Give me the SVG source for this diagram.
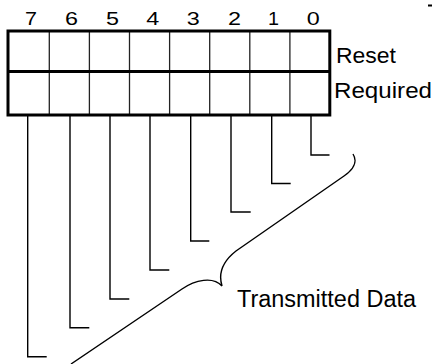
<svg xmlns="http://www.w3.org/2000/svg" width="432" height="364" viewBox="0 0 432 364">
<style>
.t{font-family:"Liberation Sans",Arial,sans-serif;fill:#000}
.d{font-size:19px;text-anchor:middle}
.l{font-size:22px}
.thin{fill:none;stroke:#222;stroke-width:1.3}
.thick{fill:none;stroke:#000;stroke-width:3}
.w{fill:none;stroke:#000;stroke-width:1.4}
</style>
<rect width="432" height="364" fill="#fff"/>
<g id="register">
<g class="thin">
<line x1="49.3" y1="31" x2="49.3" y2="115"/>
<line x1="89.4" y1="31" x2="89.4" y2="115"/>
<line x1="129.5" y1="31" x2="129.5" y2="115"/>
<line x1="169.6" y1="31" x2="169.6" y2="115"/>
<line x1="209.7" y1="31" x2="209.7" y2="115"/>
<line x1="249.8" y1="31" x2="249.8" y2="115"/>
<line x1="289.9" y1="31" x2="289.9" y2="115"/>
</g>
<rect class="thick" x="8" y="31" width="321.8" height="84"/>
<line class="thick" x1="8" y1="71.5" x2="329.8" y2="71.5"/>
</g>
<g id="bit-labels" class="t d">
<text x="31" y="25" textLength="12" lengthAdjust="spacingAndGlyphs">7</text>
<text x="71.5" y="25" textLength="13" lengthAdjust="spacingAndGlyphs">6</text>
<text x="112.5" y="25" textLength="13" lengthAdjust="spacingAndGlyphs">5</text>
<text x="152.7" y="25" textLength="13" lengthAdjust="spacingAndGlyphs">4</text>
<text x="193.3" y="25" textLength="13" lengthAdjust="spacingAndGlyphs">3</text>
<text x="234.5" y="25" textLength="13" lengthAdjust="spacingAndGlyphs">2</text>
<text x="273.5" y="25" textLength="11" lengthAdjust="spacingAndGlyphs">1</text>
<text x="313.3" y="25" textLength="13" lengthAdjust="spacingAndGlyphs">0</text>
</g>
<g id="row-labels" class="t l">
<text x="336" y="63" textLength="60" lengthAdjust="spacingAndGlyphs">Reset</text>
<text x="334" y="98" textLength="98" lengthAdjust="spacingAndGlyphs">Required</text>
</g>
<g id="connectors" class="w">
<polyline points="311,116 311,155 329.5,155"/>
<polyline points="271.7,116 271.7,183.5 290.7,183.5"/>
<polyline points="231,116 231,212 250.7,212"/>
<polyline points="190.7,116 190.7,241 209.3,241"/>
<polyline points="150,116 150,270 169.3,270"/>
<polyline points="110,116 110,299 129.3,299"/>
<polyline points="70,116 70,327.7 89.3,327.7"/>
<polyline points="27.7,116 27.7,356.7 46.7,356.7"/>
</g>
<g id="brace">
<path class="w" d="M71,364 L182,289 C195,280 213,276 222,286 C218,273 222,262 236,251 L344,176 C353,170 358,162 353,154"/>
</g>
<g id="brace-label" class="t">
<text x="237" y="307" font-size="23" textLength="179" lengthAdjust="spacingAndGlyphs">Transmitted Data</text>
</g>
<rect x="428" y="4.5" width="4" height="2" fill="#000"/>
</svg>
